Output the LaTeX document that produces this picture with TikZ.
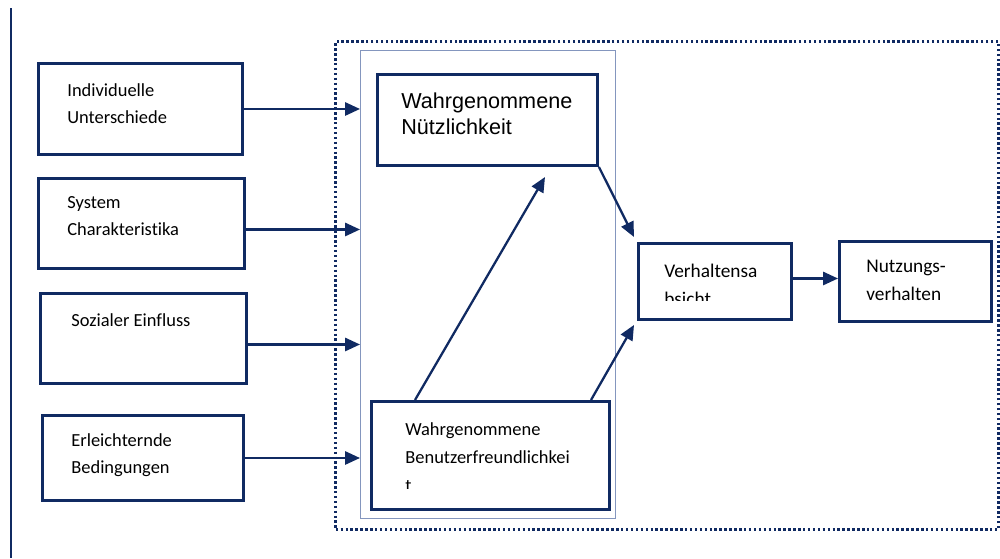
\documentclass[tikz,border=0pt]{standalone}
\usepackage{fontspec}
\setmainfont{Carlito}[Ligatures=NoCommon]
\newfontfamily\arialf{Liberation Sans}
\usetikzlibrary{arrows.meta,calc}
\definecolor{navy}{RGB}{16,42,98}
\definecolor{lightnavy}{RGB}{132,150,190}
\tikzset{
  box/.style={draw=navy, line width=1.7pt, anchor=north west, inner sep=0pt},
  lbl/.style={anchor=base west, inner sep=0pt, font=\fontsize{10.5}{12}\selectfont, text=black},
  arr/.style={draw=navy, line width=1.3pt, -{Triangle[length=8.5pt,width=7.5pt]}},
}
\begin{document}
\begin{tikzpicture}[x=0.02cm,y=-0.02cm]
\useasboundingbox (0,0) rectangle (1000,558);
% left rule
\draw[navy, line width=0.8pt] (11,8) -- (11,558);
% outer dotted frame
\node[box, draw=navy, line width=1.9pt, dash pattern=on 1.4pt off 1.4pt, minimum width=13.26cm, minimum height=9.76cm] (outer) at (334,40) {};
% inner light frame
\node[box, draw=lightnavy, line width=0.8pt, minimum width=5.1cm, minimum height=9.36cm] (inner) at (360,50) {};
% left boxes
\node[box, minimum width=4.08cm, minimum height=1.82cm] (iu) at (37,62) {};
\node[box, minimum width=4.12cm, minimum height=1.80cm] (sc) at (37,177) {};
\node[box, minimum width=4.12cm, minimum height=1.80cm] (se) at (39,292) {};
\node[box, minimum width=4.02cm, minimum height=1.70cm] (eb) at (41,414) {};
% inner boxes
\node[box, minimum width=4.40cm, minimum height=1.82cm] (wn) at (376,73) {};
\node[box, minimum width=4.76cm, minimum height=2.16cm] (wb) at (370,400) {};
% right boxes
\node[box, minimum width=3.06cm, minimum height=1.52cm] (va) at (637,242) {};
\node[box, minimum width=3.04cm, minimum height=1.60cm] (nv) at (838,240) {};
% labels
\node[lbl] (t1) at (67,96) {Individuelle};
\node[lbl] (t2) at (67,123) {Unterschiede};
\node[lbl] (t3) at (67,208) {System};
\node[lbl] (t4) at (67,235) {Charakteristika};
\node[lbl] (t5) at (71,326) {Sozialer Einfluss};
\node[lbl] (t6) at (71,446) {Erleichternde};
\node[lbl] (t7) at (71,473) {Bedingungen};
\node[anchor=base west, inner sep=0pt, font=\arialf\fontsize{12.3}{14}\selectfont] (t8) at (401,108) {Wahrgenommene};
\node[anchor=base west, inner sep=0pt, font=\arialf\fontsize{12.3}{14}\selectfont] (t9) at (401,134) {Nützlichkeit};
\node[lbl] (t10) at (405,435) {Wahrgenommene};
\node[lbl] (t11) at (405,463) {Benutzerfreundlichkei};
\begin{scope}
\clip (395,480) rectangle (450,488);
\node[lbl] (t12) at (405,491) {t};
\end{scope}
\node[lbl, font=\fontsize{11}{13}\selectfont] (t13) at (664,277) {Verhaltensa};
\begin{scope}
\clip (655,285) rectangle (760,300.5);
\node[lbl, font=\fontsize{11}{13}\selectfont] (t14) at (664,305) {bsicht};
\end{scope}
\node[lbl, font=\fontsize{11}{13}\selectfont] (t15) at (866,272) {Nutzungs-};
\node[lbl, font=\fontsize{11}{13}\selectfont] (t16) at (866,300) {verhalten};
% connectors
\coordinate (e1) at (inner.west |- iu.east);
\draw[arr] (iu.east) -- (e1);
\coordinate (s2) at ($(sc.east)+(0,6)$);
\draw[arr] (s2) -- (inner.west |- s2);
\coordinate (s3) at ($(se.east)+(0,6)$);
\draw[arr] (s3) -- (inner.west |- s3);
\draw[arr] (eb.east) -- (inner.west |- eb.east);
\coordinate (p1) at (415,400);
\coordinate (q1) at (545,177);
\draw[arr] (p1) -- (q1);
\draw[arr] (wn.south east) -- ($(va.north west)+(-3,-5)$);
\coordinate (p2) at (591,400);
\draw[arr] (p2) -- ($(va.south west)+(-3,4)$);
\coordinate (s4) at ($(va.east)+(0,-3)$);
\draw[arr] (s4) -- (nv.west |- s4);
\end{tikzpicture}
\end{document}
